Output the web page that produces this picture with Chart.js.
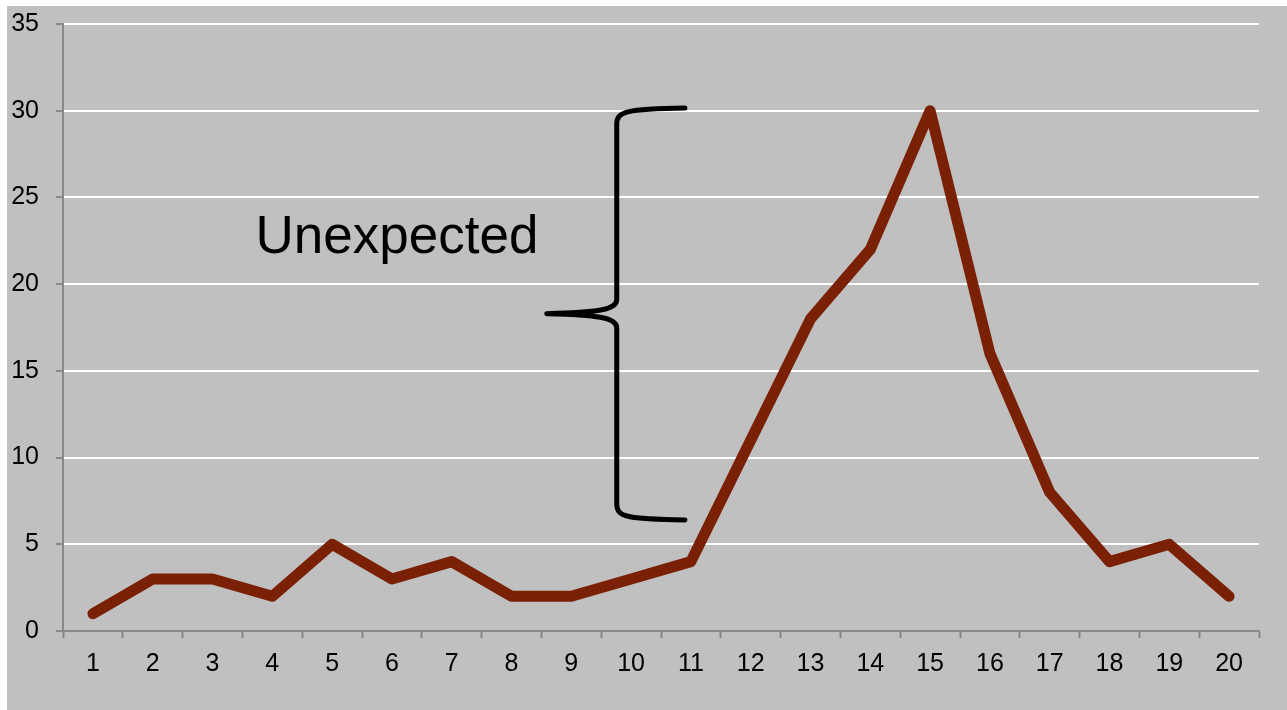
<!DOCTYPE html>
<html>
<head>
<meta charset="utf-8">
<script src="https://cdn.jsdelivr.net/npm/chart.js@4/dist/chart.umd.min.js"></script>
<style>
  html, body { margin: 0; padding: 0; background: #fff; }
  #wrap { width: 1287px; height: 710px; }
</style>
</head>
<body>
<div id="wrap"><canvas id="lineChart"></canvas></div>
<script>
const categories = ['1','2','3','4','5','6','7','8','9','10','11','12','13','14','15','16','17','18','19','20'];
const values = [1, 3, 3, 2, 5, 3, 4, 2, 2, 3, 4, 11, 18, 22, 30, 16, 8, 4, 5, 2];
const yTicks = [0, 5, 10, 15, 20, 25, 30, 35];

// brace annotation, in axis units (x = category index, y = value)
const brace = { tipX: 7.59, stemX: 8.76, endX: 9.9, top: 30.15, mid: 18.3, bottom: 6.4 };
const braceLabel = 'Unexpected';

const grayBg = {
    id: 'grayBg',
    beforeDraw(chart) {
        const ctx = chart.ctx;
        ctx.save();
        ctx.fillStyle = '#c0c0c0';
        ctx.fillRect(7, 6, chart.width - 7, chart.height - 6);
        ctx.restore();
    }
};

const braceAnno = {
    id: 'braceAnno',
    afterDatasetsDraw(chart) {
        const { ctx, scales: { x, y } } = chart;
        const tx = x.getPixelForValue(brace.tipX);
        const sx = x.getPixelForValue(brace.stemX);
        const ex = x.getPixelForValue(brace.endX);
        const top = y.getPixelForValue(brace.top);
        const mid = y.getPixelForValue(brace.mid);
        const bot = y.getPixelForValue(brace.bottom);
        ctx.save();
        ctx.strokeStyle = '#000';
        ctx.lineWidth = 5;
        ctx.lineCap = 'round';
        ctx.lineJoin = 'round';
        ctx.beginPath();
        ctx.moveTo(ex, top);
        ctx.bezierCurveTo(sx + 10, top + 1, sx, top + 3, sx, top + 16);
        ctx.lineTo(sx, mid - 14);
        ctx.bezierCurveTo(sx, mid - 4, sx - 20, mid - 1, tx, mid);
        ctx.moveTo(tx, mid);
        ctx.bezierCurveTo(sx - 20, mid + 1, sx, mid + 4, sx, mid + 14);
        ctx.lineTo(sx, bot - 16);
        ctx.bezierCurveTo(sx, bot - 3, sx + 10, bot - 1, ex, bot);
        ctx.stroke();

        ctx.fillStyle = '#000';
        ctx.font = '53px "Liberation Sans", Arial, sans-serif';
        ctx.textAlign = 'left';
        ctx.textBaseline = 'alphabetic';
        ctx.fillText(braceLabel, x.getPixelForValue(2.72), y.getPixelForValue(21.8));
        ctx.restore();
    }
};

const ctx = document.getElementById('lineChart').getContext('2d');
new Chart(ctx, {
    type: 'line',
    data: {
        labels: categories,
        datasets: [{
            data: values,
            borderColor: '#7a2005',
            backgroundColor: '#7a2005',
            borderWidth: 11,
            borderCapStyle: 'round',
            borderJoinStyle: 'round',
            pointRadius: 0,
            fill: false,
            tension: 0
        }]
    },
    options: {
        responsive: true,
        maintainAspectRatio: false,
        animation: false,
        layout: { padding: { top: 24, right: 28, left: 0, bottom: 0 } },
        plugins: {
            legend: { display: false },
            tooltip: { enabled: false }
        },
        scales: {
            x: {
                offset: true,
                grid: {
                    offset: true,
                    drawOnChartArea: false,
                    drawTicks: true,
                    tickLength: 7,
                    tickColor: '#888',
                    tickWidth: 2
                },
                border: { color: '#888', width: 2 },
                ticks: {
                    color: '#000',
                    padding: 11,
                    maxRotation: 0,
                    font: { family: '"Liberation Sans", Arial, sans-serif', size: 25 }
                },
                afterFit: s => { s.height = 79; s.paddingLeft = 0; s.paddingRight = 0; }
            },
            y: {
                min: 0,
                max: 35,
                afterBuildTicks: s => { s.ticks = yTicks.map(v => ({ value: v })); },
                grid: {
                    color: '#ffffff',
                    lineWidth: 2,
                    tickLength: 7,
                    tickColor: '#888',
                    tickWidth: 2
                },
                border: { color: '#888', width: 2 },
                ticks: {
                    color: '#000',
                    padding: 17,
                    font: { family: '"Liberation Sans", Arial, sans-serif', size: 25 }
                },
                afterFit: s => { s.width = 63; s.paddingTop = 0; s.paddingBottom = 0; }
            }
        }
    },
    plugins: [grayBg, braceAnno]
});
</script>
</body>
</html>
